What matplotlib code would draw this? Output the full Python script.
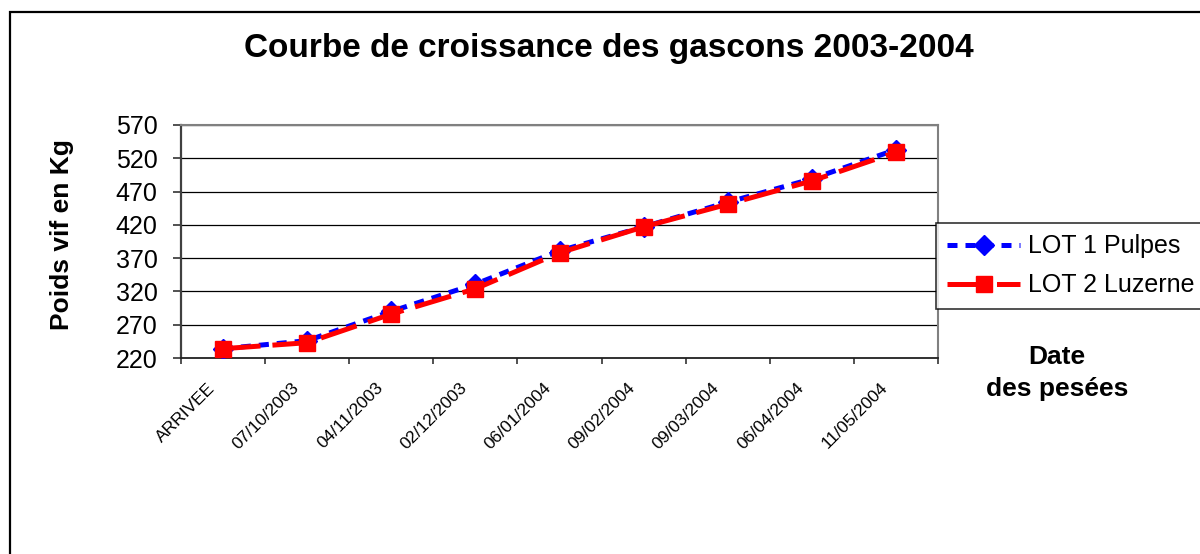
import matplotlib
matplotlib.use("Agg")
import matplotlib.pyplot as plt
from matplotlib.patches import Rectangle
from matplotlib.transforms import ScaledTranslation
import numpy as np

plt.rcParams['font.family'] = ['Liberation Sans', 'DejaVu Sans']

# Données
dates = ['ARRIVEE', '07/10/2003', '04/11/2003', '02/12/2003', '06/01/2004',
         '09/02/2004', '09/03/2004', '06/04/2004', '11/05/2004']
lot1_pulpes = [234, 246, 290, 331, 381, 417, 454, 489, 533]
lot2_luzerne = [234, 243, 286, 324, 378, 417, 451, 486, 529]
yticks = [220, 270, 320, 370, 420, 470, 520, 570]

fig = plt.figure(figsize=(12, 5.54), dpi=100)
ax = fig.add_axes([181/1200, 1 - 358/554, 757/1200, 233/554])

x = np.arange(len(dates))

l1, = ax.plot(x, lot1_pulpes, color='#0000ff', lw=3.6, ls=(0, (2.0, 1.6)),
              marker='D', ms=10, mfc='#0000ff', mec='#0000ff', zorder=3,
              label='LOT 1 Pulpes')
l2, = ax.plot(x, lot2_luzerne, color='#ff0000', lw=3.6, ls=(0, (7.5, 2.4)),
              marker='s', ms=12, mfc='#ff0000', mec='#ff0000', zorder=4,
              label='LOT 2 Luzerne')

ax.set_xlim(-0.5, len(dates) - 0.5)
ax.set_ylim(220, 570)
ax.set_yticks(yticks)
ax.tick_params(axis='y', labelsize=18, length=6, width=1.2, pad=11, color='#333333')
for y in yticks[1:]:
    ax.axhline(y, color='black', lw=0.9, zorder=1)

# graduations aux limites des catégories, libellés au centre
ax.set_xticks(np.arange(-0.5, len(dates), 1.0))
ax.set_xticklabels([])
ax.tick_params(axis='x', which='major', length=4, width=1.2, color='#333333')
ax.set_xticks(x, minor=True)
ax.set_xticklabels(dates, minor=True, rotation=45, ha='right',
                   rotation_mode='anchor', fontsize=12.5)
ax.tick_params(axis='x', which='minor', length=0, pad=16)
shift = ScaledTranslation(-16/100, 0, fig.dpi_scale_trans)
for lab in ax.get_xticklabels(minor=True):
    lab.set_transform(lab.get_transform() + shift)

ax.spines['left'].set_color('#404040')
ax.spines['left'].set_linewidth(1.6)
ax.spines['bottom'].set_color('#202020')
ax.spines['bottom'].set_linewidth(1.3)
ax.spines['top'].set_color('#808080')
ax.spines['top'].set_linewidth(1.5)
ax.spines['right'].set_color('#808080')
ax.spines['right'].set_linewidth(1.5)

fig.text(609/1200, 1 - 48/554, 'Courbe de croissance des gascons 2003-2004',
         ha='center', va='center', fontsize=24, fontweight='bold')
fig.text(62/1200, 1 - 235/554, 'Poids vif en Kg', rotation=90,
         ha='center', va='center', fontsize=19, fontweight='bold')
fig.text(1057/1200, 1 - 373/554, 'Date\ndes pesées', ha='center', va='center',
         multialignment='center', fontsize=19, fontweight='bold', linespacing=1.38)

leg = fig.legend(handles=[l1, l2], loc='upper left',
                 bbox_to_anchor=(936/1200, 1 - 305/554, 0.3, 82/554),
                 mode='expand', fontsize=18, frameon=True, fancybox=False,
                 edgecolor='black', handlelength=2.9, handletextpad=0.35,
                 labelspacing=0.6, borderaxespad=0, borderpad=0.45)
leg.get_frame().set_linewidth(1.2)

fig.add_artist(Rectangle((10/1200, -0.1), 1.2, 1.1 - 12/554, transform=fig.transFigure,
                         fill=False, lw=1.6, edgecolor='black', clip_on=False))

fig.savefig('out.png', dpi=100)
